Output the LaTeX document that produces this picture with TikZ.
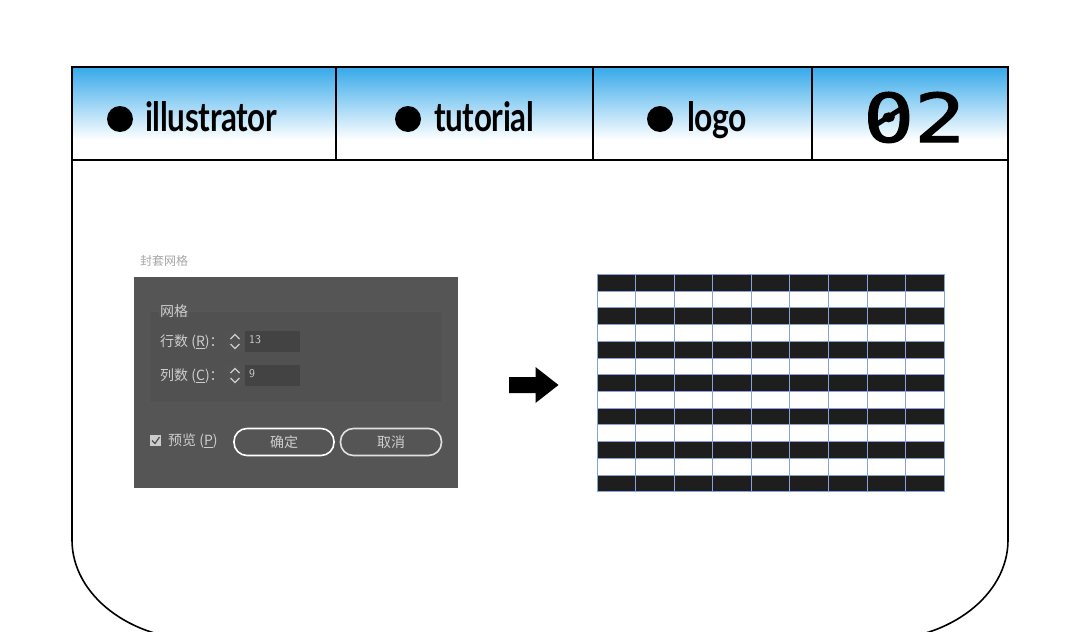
\documentclass[tikz,border=0pt]{standalone}
\usepackage{fontspec}
\usepackage{graphicx}
\usetikzlibrary{calc}
\newfontfamily\hdr{Lato}[LetterSpace=-1]
\newfontfamily\cjk{Noto Sans CJK SC}
\newfontfamily\monof{DejaVu Sans Mono}[FakeBold=1.6]
\definecolor{hblue}{HTML}{36A9EA}
\definecolor{dlg}{HTML}{555555}
\definecolor{grp}{HTML}{515151}
\definecolor{fld}{HTML}{434343}
\definecolor{dtext}{HTML}{CDCDCD}
\definecolor{gline}{HTML}{8AA2DC}
\definecolor{gblack}{HTML}{1E1E1E}
\tikzset{
  frameline/.style={draw=black, line width=1.6pt},
  hdrline/.style={draw=black, line width=1.3pt},
  bullet/.style={circle, fill=black, minimum size=26pt, inner sep=0pt},
  hdrtext/.style={anchor=base west, inner sep=0pt},
  dlgtext/.style={anchor=west, inner sep=0pt, text=dtext, font=\cjk\fontsize{14}{14}\selectfont},
  fieldbox/.style={fill=fld, draw=none},
  pill/.style={draw=white, line width=1.6pt, rounded corners=13pt, fill=dlg},
  blockarrow/.style={fill=black},
}
\begin{document}
\begin{tikzpicture}[x=1pt,y=-1pt]
\useasboundingbox (0,0) rectangle (1080,632);
\fill[white] (0,0) rectangle (1080,632);
% header gradient
\shade[top color=hblue, bottom color=white, middle color=hblue!50] (72,67) rectangle (1008,140);
% frame
\draw[frameline] (72,540) -- (72,67) -- (1008,67) -- (1008,540);
\draw[frameline] (72,540) .. controls (72,595) and (130,640) .. (202,640);
\draw[frameline] (1008,540) .. controls (1008,595) and (950,640) .. (878,640);
\draw[hdrline] (72,160) -- (1008,160);
\draw[hdrline] (336,67) -- (336,160);
\draw[hdrline] (593,67) -- (593,160);
\draw[hdrline] (812,67) -- (812,160);
% header labels
\node[bullet] (b1) at (120,119) {};
\node[hdrtext] (t1) at (145,131) {\resizebox{132pt}{30pt}{\hdr\bfseries illustrator}};
\node[bullet] (b2) at (408,119) {};
\node[hdrtext] (t2) at (434,131) {\resizebox{100pt}{30pt}{\hdr\bfseries tutorial}};
\node[bullet] (b3) at (660,119) {};
\node[hdrtext] (t3) at (687,131) {\resizebox{60pt}{30pt}{\hdr\bfseries logo}};
\node[hdrtext] (t4) at (863,142) {\resizebox{102pt}{50pt}{\monof 02}};
\draw[line width=5pt] ($(t4.base west)+(11,-16)$) -- ($(t4.base west)+(41,-35)$);
% dialog
\node[anchor=west, inner sep=0pt, text=black!35, font=\cjk\fontsize{12}{12}\selectfont] (title) at (140,261) {封套网格};
\fill[dlg] (134,277) rectangle (458,488);
\draw[fill=grp, draw=black!66, line width=0.5pt] (149,311) rectangle (442,402);
\node[dlgtext, fill=dlg, inner xsep=1pt] (grid) at (159,311) {网格};
\node[dlgtext] (rows) at (160,342) {行数 (\underline{R})：};
\node[dlgtext] (cols) at (160,376) {列数 (\underline{C})：};
\fill[black!68] (226,331) rectangle (244,352);
\fill[black!68] (226,365) rectangle (244,386);
\draw[dtext, line width=1.3pt] (230.5,339) -- (235,334.5) -- (239.5,339);
\draw[dtext, line width=1.3pt] (230.5,344) -- (235,348.5) -- (239.5,344);
\draw[dtext, line width=1.3pt] (230.5,373) -- (235,368.5) -- (239.5,373);
\draw[dtext, line width=1.3pt] (230.5,378) -- (235,382.5) -- (239.5,378);
\fill[fieldbox] (245,331) rectangle (300,352);
\fill[fieldbox] (245,365) rectangle (300,386);
\node[anchor=west, inner sep=0pt, text=dtext, font=\fontsize{12}{12}\selectfont\sffamily] (v1) at (249,340) {13};
\node[anchor=west, inner sep=0pt, text=dtext, font=\fontsize{12}{12}\selectfont\sffamily] (v2) at (249,374) {9};
% checkbox
\fill[black!20] (150,435) rectangle (161,446);
\draw[black!70, line width=1.2pt] (152,440.5) -- (155,443.5) -- (159.5,437);
\node[dlgtext] (prev) at (168,441) {预览 (\underline{P})};
\node[pill, minimum width=100pt, minimum height=27pt, text=dtext, font=\cjk\fontsize{14}{14}\selectfont] (ok) at (284,442) {确定};
\node[pill, draw=black!12, minimum width=101pt, minimum height=27pt, text=dtext, font=\cjk\fontsize{14}{14}\selectfont] (cancel) at (391,442) {取消};
% arrow
\fill[blockarrow] (509,377) -- (535.5,377) -- (535.5,367) -- (558.5,385) -- (535.5,403) -- (535.5,393) -- (509,393) -- cycle;
% striped grid
\foreach \r in {0,2,...,12}{
  \fill[gblack] (597,{274.3+\r*16.72}) rectangle (944,{274.3+(\r+1)*16.72});
}
\foreach \r in {0,...,13}{
  \draw[gline, line width=0.7pt] (597,{274.3+\r*16.72}) -- (944,{274.3+\r*16.72});
}
\foreach \c in {0,...,9}{
  \draw[gline, line width=0.7pt] ({597+\c*38.56},274.3) -- ({597+\c*38.56},491.7);
}
\end{tikzpicture}
\end{document}
